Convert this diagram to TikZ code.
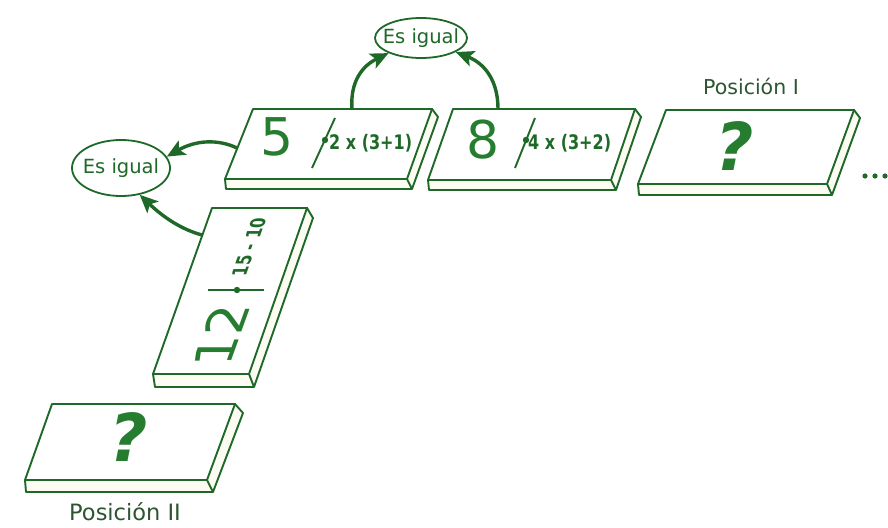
\documentclass[tikz,border=0pt]{standalone}
\usepackage{fontspec}
\setmainfont{DejaVu Sans}
\newfontfamily\condb{DejaVu Sans}[FakeStretch=0.8,BoldFont={DejaVu Sans Bold}]
\usetikzlibrary{arrows.meta,shapes.geometric}
\definecolor{dg}{RGB}{30,105,40}
\definecolor{tg}{RGB}{38,125,48}
\definecolor{slabc}{RGB}{253,252,242}
\definecolor{postc}{RGB}{45,85,50}
\begin{document}
\begin{tikzpicture}[x=1pt,y=-1pt,
  edge/.style={draw=dg,line width=1.9pt,line join=round},
  slab/.style={edge,fill=slabc},
  face/.style={edge,fill=white},
  arr/.style={draw=dg,line width=3.4pt,-{Stealth[length=18pt,width=16pt,inset=4pt]}},
  bubble/.style={ellipse,draw=dg,line width=1.8pt,inner sep=0pt,fill=white},
  bigtxt/.style={text=tg,inner sep=0pt,font=\fontsize{52}{52}\selectfont},
  qtxt/.style={text=tg,inner sep=0pt,font=\fontsize{66}{66}\selectfont\bfseries\itshape},
  smalltxt/.style={text=dg,inner sep=0pt,font=\fontsize{20}{20}\selectfont\condb\bfseries},
  lbl/.style={text=dg,inner sep=0pt,font=\fontsize{19.5}{19.5}\selectfont},
  postxt/.style={text=postc,inner sep=0pt},
  dot/.style={fill=dg}]
\useasboundingbox[fill=white] (0,0) rectangle (888,527);

% tile 5
\filldraw[slab] (225,179) -- (226,189) -- (412,189) -- (438,117) -- (432,109) -- cycle;
\filldraw[face] (253,109) -- (432,109) -- (407,179) -- (225,179) -- cycle;
\draw[edge] (407,179) -- (412,189);
% tile 8
\filldraw[slab] (428,180) -- (429,190) -- (616,190) -- (641,117) -- (635,109) -- cycle;
\filldraw[face] (453,109) -- (635,109) -- (611,180) -- (428,180) -- cycle;
\draw[edge] (611,180) -- (616,190);
% tile Posicion I
\filldraw[slab] (638,184) -- (639,195) -- (832,195) -- (860,118) -- (854,110) -- cycle;
\filldraw[face] (666,110) -- (854,110) -- (827,184) -- (638,184) -- cycle;
\draw[edge] (827,184) -- (832,195);
% tile 12
\filldraw[slab] (153,374) -- (155,387) -- (254,387) -- (313,218) -- (307,208) -- cycle;
\filldraw[face] (212,208) -- (307,208) -- (249,374) -- (153,374) -- cycle;
\draw[edge] (249,374) -- (254,387);
% tile Posicion II
\filldraw[slab] (25,480) -- (26,492) -- (213,492) -- (243,413) -- (235,404) -- cycle;
\filldraw[face] (52,404) -- (235,404) -- (207,480) -- (25,480) -- cycle;
\draw[edge] (207,480) -- (213,492);

% tile contents
\node[bigtxt] (n5) at (277,137) {5};
\draw[edge] (312,168) -- (335,118);
\fill[dot] (325,140) circle[radius=3.2pt];
\node[smalltxt,anchor=west] (x5) at (329,143) {2 x (3+1)};

\node[bigtxt] (n8) at (483,140) {8};
\draw[edge] (515,168) -- (535,118);
\fill[dot] (526,140) circle[radius=3.2pt];
\node[smalltxt,anchor=west] (x8) at (528,143) {4 x (3+2)};

\node[qtxt] (q1) at (735,146) {?};
\node[qtxt] (q2) at (129,437) {?};

\begin{scope}[shift={(221,335)}]
\node[bigtxt,cm={0.34,0.94,-1,0,(0,0)}] (n12) at (0,0) {12};
\end{scope}
\draw[edge] (208,290) -- (264,290);
\fill[dot] (237,290) circle[radius=3.2pt];
\begin{scope}[shift={(249,247)}]
\node[smalltxt,cm={0.34,0.94,-1,0,(0,0)}] (x12) at (0,0) {15 - 10};
\end{scope}

% labels
\node[postxt,font=\fontsize{20.5}{20.5}\selectfont] (p1) at (751,86) {Posición I};
\node[postxt,font=\fontsize{22.5}{22.5}\selectfont] (p2) at (125,512) {Posición II};

% dots
\fill[dg] (865,176) circle[radius=2.6pt];
\fill[dg] (875,176) circle[radius=2.6pt];
\fill[dg] (885,176) circle[radius=2.6pt];

% ellipses
\node[bubble,minimum width=92pt,minimum height=40pt,label={[lbl]center:Es igual}] (eTop) at (421,38) {};
\node[bubble,minimum width=98pt,minimum height=56pt,label={[lbl]center:Es igual}] (eL) at (121,168) {};

% arrow start points
\coordinate (s5top) at (352,109);
\coordinate (s8top) at (498,109);
\coordinate (s5left) at (237,148);
\coordinate (s12left) at (202,235);

\draw[arr] (s5top) .. controls (350,82) and (362,66) .. (eTop.205);
\draw[arr] (s8top) .. controls (498,82) and (486,64) .. (eTop.338);
\draw[arr] (s5left) .. controls (218,139) and (196,140) .. (eL.14);
\draw[arr] (s12left) .. controls (180,229) and (162,216) .. (eL.305);
\end{tikzpicture}
\end{document}
